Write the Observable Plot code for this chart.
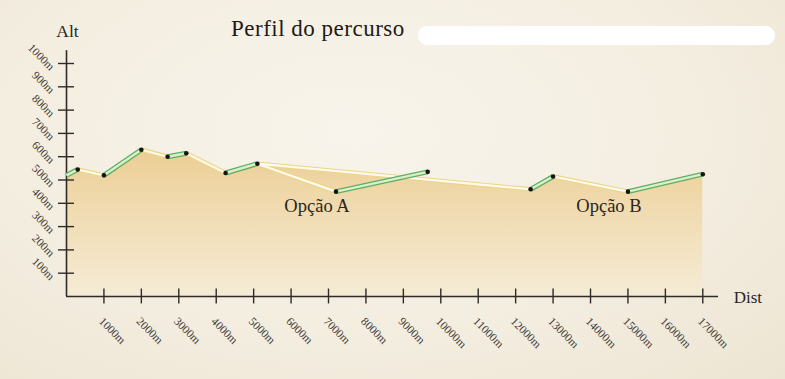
<!DOCTYPE html>
<html><head><meta charset="utf-8">
<script src="https://cdn.jsdelivr.net/npm/d3@7"></script>
<script src="https://cdn.jsdelivr.net/npm/@observablehq/plot@0.6"></script>
<style>
html,body{margin:0;padding:0;}
body{width:785px;height:379px;overflow:hidden;position:relative;font-family:"Liberation Serif",serif;
 background:radial-gradient(ellipse at 45% 35%, #f8f4eb 0%, #f4eee1 55%, #ede5d3 100%);}
#chart{position:absolute;left:0;top:0;}
#title{position:absolute;left:231px;top:16px;font-size:23px;line-height:26px;color:#1e1a16;letter-spacing:0.5px;}
#redact{position:absolute;left:418px;top:26px;width:357px;height:19px;background:#fff;border-radius:9px;}
</style></head><body>
<div id="chart"></div>
<div id="title">Perfil do percurso</div>
<div id="redact"></div>
<script>
// shared start of the route
const commonDist = [0, 300, 1000, 2000, 2700, 3200, 4250, 5100];
const commonAlt  = [520, 545, 520, 630, 600, 615, 530, 570];
// option A branch
const optionADist = [5100, 7200, 9650];
const optionAAlt  = [570, 450, 535];
// option B branch
const optionBDist = [5100, 12400, 13000, 15000, 17000];
const optionBAlt  = [570, 460, 515, 450, 525];
const optionNames = ["Opção A", "Opção B"];
// axes
const xTicks = [1000,2000,3000,4000,5000,6000,7000,8000,9000,10000,11000,12000,13000,14000,15000,16000,17000];
const xTickLabels = ["1000m","2000m","3000m","4000m","5000m","6000m","7000m","8000m","9000m","10000m","11000m","12000m","13000m","14000m","15000m","16000m","17000m"];
const yTicks = [100,200,300,400,500,600,700,800,900,1000];
const yTickLabels = ["100m","200m","300m","400m","500m","600m","700m","800m","900m","1000m"];
const xAxisName = "Dist";
const yAxisName = "Alt";

const pts = (ds, as) => ds.map((d, i) => ({dist: d, alt: as[i]}));
const common = pts(commonDist, commonAlt);
const pathA = pts(optionADist, optionAAlt);
const pathB = pts(optionBDist, optionBAlt);
const segs = [];
for (const p of [common, pathA, pathB])
  for (let i = 1; i < p.length; i++)
    segs.push({x1: p[i-1].dist, y1: p[i-1].alt, x2: p[i].dist, y2: p[i].alt, up: p[i].alt > p[i-1].alt});
const upSegs = segs.filter(s => s.up);
const downSegs = segs.filter(s => !s.up);
const areaPts = common.concat(pathB.slice(1));
const dots = common.slice(1).concat(pathA.slice(1), pathB.slice(1));
const lowOf = p => p.slice(1).reduce((a, b) => (b.alt < a.alt ? b : a));
const optionLabels = [lowOf(pathA), lowOf(pathB)].map((p, i) => ({...p, name: optionNames[i]}));

const axisColor = "#2e2b28";
const font = "Liberation Serif";

const chart = Plot.plot({
  width: 785, height: 379,
  marginLeft: 66, marginRight: 82.7, marginTop: 63, marginBottom: 83,
  x: {domain: [0, 17000], axis: null},
  y: {domain: [0, 1000], axis: null},
  style: {background: "transparent", overflow: "visible", fontFamily: font},
  marks: [
    Plot.areaY(areaPts, {x: "dist", y: "alt", fill: "url(#profileFill)"}),
    Plot.ruleY([0], {x1: 0, x2: 17420, stroke: axisColor, strokeWidth: 1.6}),
    Plot.ruleX([0], {y1: 0, y2: 1055, stroke: axisColor, strokeWidth: 1.6}),
    Plot.ruleX(xTicks, {x: d => d, y1: -32, y2: 32, stroke: axisColor, strokeWidth: 1.4}),
    Plot.ruleY(yTicks, {y: d => d, x1: -214, x2: 214, stroke: axisColor, strokeWidth: 1.4}),
    Plot.text(xTicks, {x: d => d, y: 0, text: (d, i) => xTickLabels[i], rotate: 45, textAnchor: "start",
      dx: -3, dy: 23, fontSize: 11.5, fill: "#3b3733", fontFamily: font}),
    Plot.text(yTicks, {x: 0, y: d => d, text: (d, i) => yTickLabels[i], rotate: 45, textAnchor: "end",
      dx: -14, dy: 5, fontSize: 11.5, fill: "#3b3733", fontFamily: font}),
    Plot.text([yAxisName], {x: 0, y: 1000, text: d => d, dx: 1, dy: -32, fontSize: 17.5, fill: "#2a2622", fontFamily: font}),
    Plot.text([xAxisName], {x: 17000, y: 0, text: d => d, dx: 45, dy: 1, fontSize: 17, fill: "#2a2622", fontFamily: font}),
    Plot.link(downSegs, {x1: "x1", y1: "y1", x2: "x2", y2: "y2", stroke: "#ecd488", strokeWidth: 4.5}),
    Plot.link(downSegs, {x1: "x1", y1: "y1", x2: "x2", y2: "y2", stroke: "#fffcee", strokeWidth: 2.2}),
    Plot.link(upSegs, {x1: "x1", y1: "y1", x2: "x2", y2: "y2", stroke: "#62ad62", strokeWidth: 5}),
    Plot.link(upSegs, {x1: "x1", y1: "y1", x2: "x2", y2: "y2", stroke: "#d8f0cc", strokeWidth: 2.4}),
    Plot.dot(dots, {x: "dist", y: "alt", r: 2.3, fill: "#151515"}),
    Plot.text(optionLabels, {x: "dist", y: "alt", text: "name", dx: -19, dy: 14, fontSize: 18.5,
      fill: "#2a2520", fontFamily: font, letterSpacing: 1})
  ]
});
const defs = document.createElementNS("http://www.w3.org/2000/svg", "defs");
defs.innerHTML = '<linearGradient id="profileFill" x1="0" y1="0" x2="0" y2="1">' +
  '<stop offset="0" stop-color="#ecce94"/><stop offset="0.4" stop-color="#f0dbb0"/><stop offset="1" stop-color="#f5ebd5"/></linearGradient>';
chart.insertBefore(defs, chart.firstChild);
document.getElementById("chart").appendChild(chart);
</script>
</body></html>
